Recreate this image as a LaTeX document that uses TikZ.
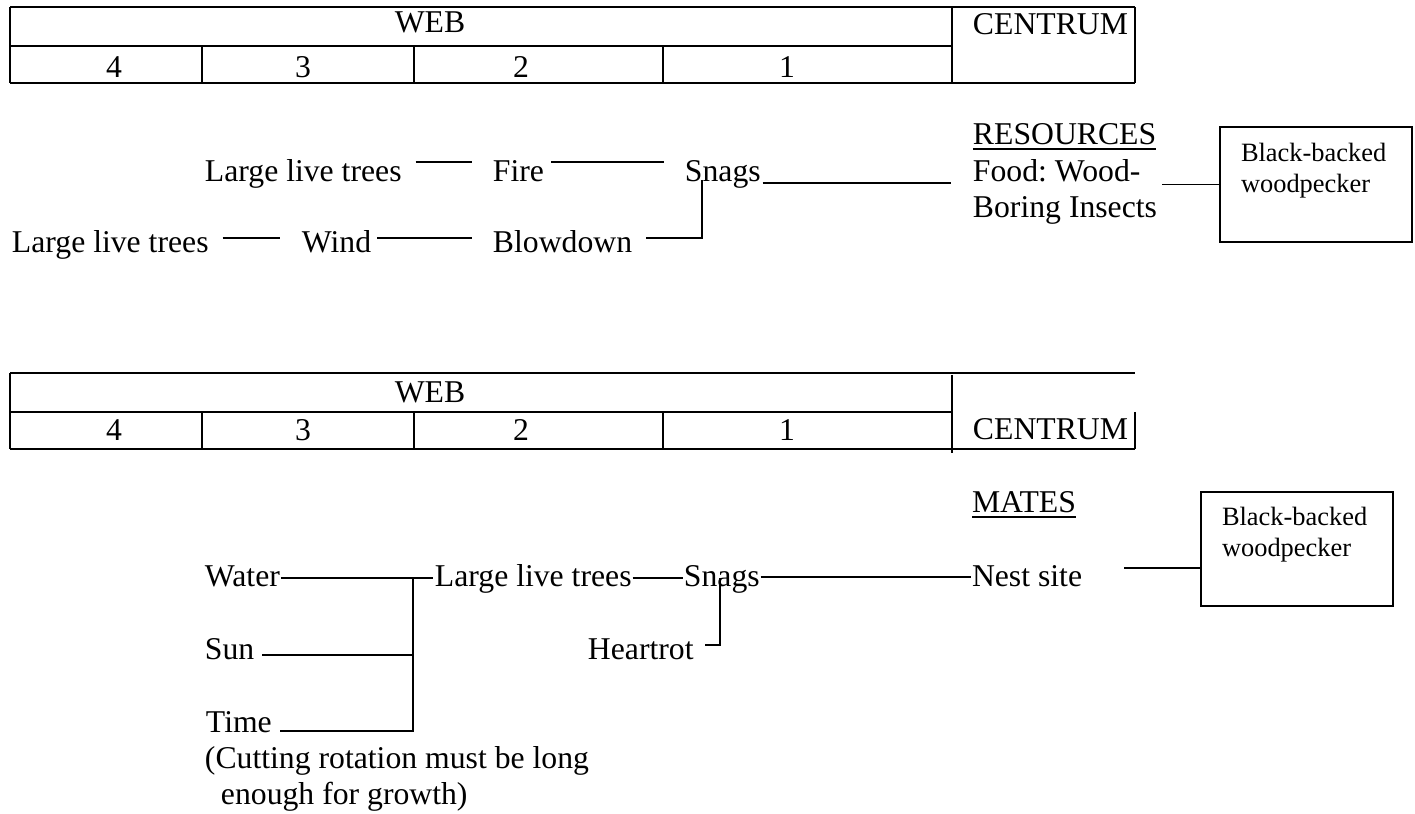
\documentclass[tikz,border=0pt]{standalone}
\usepackage{fontspec}
\setmainfont{Liberation Serif}
\frenchspacing
\begin{document}
\begin{tikzpicture}[x=0.3785pt,y=-0.3785pt, line width=0.75pt,
  txt/.style={inner sep=0pt, anchor=base west, font=\fontsize{12}{13.8}\selectfont},
  ctxt/.style={inner sep=0pt, anchor=base, font=\fontsize{12}{13.8}\selectfont},
  btxt/.style={inner sep=0pt, anchor=base west, font=\fontsize{10}{11.5}\selectfont},
  birdbox/.style={draw, minimum width=72.67pt, minimum height=43.4pt, inner sep=0pt}]
\useasboundingbox (0,0) rectangle (1415,814);

% ---------- top table ----------
\draw (10,7) -- (1135,7);
\draw (10,46) -- (952,46);
\draw (10,83) -- (1135,83);
\draw (10,7) -- (10,83);
\draw (952,7) -- (952,83);
\draw (1135,7) -- (1135,83);
\foreach \x in {202,414,663} \draw (\x,46) -- (\x,83);
\node[ctxt] (weba) at (430,33) {WEB};
\node[ctxt] (c4a) at (114,78) {4};
\node[ctxt] (c3a) at (303,78) {3};
\node[ctxt] (c2a) at (521,78) {2};
\node[ctxt] (c1a) at (787,78) {1};
\node[txt] (cena) at (972,35) {CENTRUM};

% ---------- first web ----------
\node[txt] (lta) at (204,182) {Large live trees};
\node[txt] (fire) at (492,182) {Fire};
\node[txt] (snagsa) at (684,182) {Snags};
\node[txt] (ltb) at (11,253) {Large live trees};
\node[txt] (wind) at (301,253) {Wind};
\node[txt] (blow) at (492,253) {Blowdown};
\node[txt] (res) at (972,145) {\underline{RESOURCES}};
\node[txt] (fooda) at (972,182) {Food: Wood-};
\node[txt] (foodb) at (972,218) {Boring Insects};
\node[birdbox] (boxa) at (1316,184.5) {};
\node[btxt] (bba) at ([shift={(21,35)}]boxa.north west) {Black-backed};
\node[btxt] (wpa) at ([shift={(0,31)}]bba.base west) {woodpecker};

\draw ([shift={(13,-20)}]lta.base east) -- ([shift={(-20,-20)}]fire.base west);
\draw ([shift={(6,-20)}]fire.base east) -- ([shift={(-20,-20)}]snagsa.base west);
\draw ([shift={(1,1)}]snagsa.base east) -- ([shift={(-21,1)}]fooda.base west);
\draw ([shift={(18,-2)}]snagsa.base west) |- ([shift={(13,-15)}]blow.base east);
\draw ([shift={(13,-15)}]ltb.base east) -- ([shift={(-21,-15)}]wind.base west);
\draw ([shift={(5,-15)}]wind.base east) -- ([shift={(-20,-15)}]blow.base west);
\draw (boxa.west) -- ++(-57,0);

% ---------- lower table ----------
\draw (10,373) -- (1135,373);
\draw (10,412) -- (952,412);
\draw (10,449) -- (1135,449);
\draw (10,373) -- (10,449);
\draw (952,375) -- (952,453);
\draw (1135,412) -- (1135,449);
\foreach \x in {202,414,663} \draw (\x,412) -- (\x,449);
\node[ctxt] (webb) at (430,403) {WEB};
\node[ctxt] (c4b) at (114,441) {4};
\node[ctxt] (c3b) at (303,441) {3};
\node[ctxt] (c2b) at (521,441) {2};
\node[ctxt] (c1b) at (787,441) {1};
\node[txt] (cenb) at (972,440) {CENTRUM};

% ---------- second web ----------
\node[txt] (mates) at (971,513) {\underline{MATES}};
\node[txt] (water) at (204,587) {Water};
\node[txt] (ltc) at (434,587) {Large live trees};
\node[txt] (snagsb) at (683,587) {Snags};
\node[txt] (nest) at (971,587) {Nest site};
\node[txt] (sun) at (204,660) {Sun};
\node[txt] (heart) at (587,660) {Heartrot};
\node[txt] (time) at (205,733) {Time};
\node[txt] (cuta) at (204,769) {(Cutting rotation must be long};
\node[txt] (cutb) at (220,805) {enough for growth)};
\node[birdbox] (boxb) at (1297,549) {};
\node[btxt] (bbb) at ([shift={(21,35)}]boxb.north west) {Black-backed};
\node[btxt] (wpb) at ([shift={(0,31)}]bbb.base west) {woodpecker};

\coordinate (j) at ([shift={(-21,-9)}]ltc.base west);
\coordinate (sunE) at ([shift={(7,-5)}]sun.base east);
\coordinate (timeE) at ([shift={(7,-2)}]time.base east);
\draw ([shift={(0,-9)}]water.base east) -- ([shift={(-1,-9)}]ltc.base west);
\draw (j) |- (timeE);
\draw (sunE) -- (sunE -| j);
\draw ([shift={(0,-9)}]ltc.base east) -- ([shift={(0,-9)}]snagsb.base west);
\draw ([shift={(0,-10)}]snagsb.base east) -- ([shift={(0,-10)}]nest.base west);
\draw ([shift={(37,-9)}]snagsb.base west) |- ([shift={(10,-15)}]heart.base east);
\draw ([shift={(0,19)}]boxb.west) -- ++(-76,0);
\end{tikzpicture}
\end{document}
